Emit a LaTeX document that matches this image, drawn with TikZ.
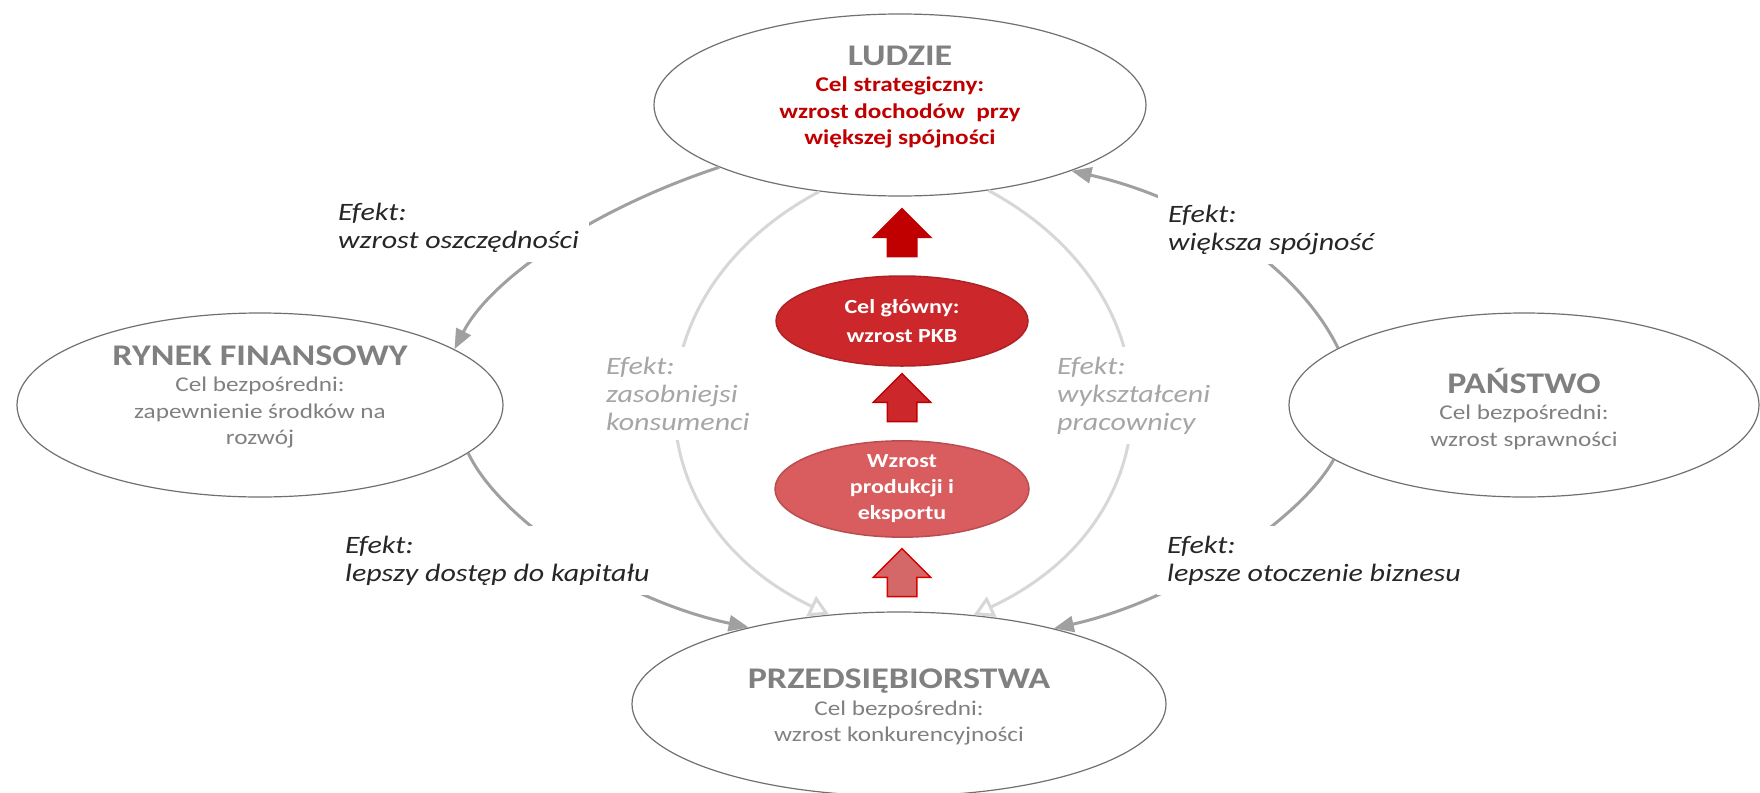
\documentclass[tikz,border=0pt]{standalone}
\usepackage{fontspec}
\setmainfont{Carlito}[FakeStretch=1.2]
\usepackage{tikz}
\usetikzlibrary{arrows.meta,shapes.geometric,shapes.arrows,positioning}
\definecolor{szary}{RGB}{128,128,128}
\definecolor{obrys}{RGB}{112,112,112}
\definecolor{luk}{RGB}{160,160,160}
\definecolor{lukjasny}{RGB}{215,215,215}
\definecolor{czerwony}{RGB}{192,0,0}
\definecolor{celfill}{RGB}{204,40,44}
\definecolor{wzrostfill}{RGB}{217,92,95}
\definecolor{strzalka}{RGB}{212,104,104}
\definecolor{efekt}{RGB}{38,38,38}
\definecolor{efektjasny}{RGB}{166,166,166}
\def\Tytul#1{{\color{szary}\fontsize{30}{26.5}\selectfont\bfseries #1}}

\begin{document}
\begin{tikzpicture}[x=1pt,y=-1pt,% one unit = one pixel of the original, y downwards
		every node/.style={
			align=center		% so that "\\" breaks lines
		},
		sektor/.style={ellipse,draw=obrys,line width=1.2pt,inner sep=0pt},
		opis/.style={text=szary,font=\fontsize{21}{26.5}\selectfont},
		srodek/.style={ellipse,line width=1.5pt,inner sep=0pt,text=white},
		efektbox/.style={anchor=north west,align=left,fill=white,inner sep=10pt,
			text=efekt,font=\itshape\fontsize{25}{28}\selectfont},
		wklad/.style={line width=3pt,draw=luk,-{Triangle[length=20pt,width=16pt]}},
		wewn/.style={line width=3pt,draw=lukjasny,-{Triangle[length=20pt,width=22pt,fill=white]}},
		strz/.style={single arrow,shape border rotate=90,minimum height=48pt,
			minimum width=56pt,single arrow head extend=14pt,inner xsep=14pt,inner ysep=0pt,
			line width=1.5pt}
	]
	\useasboundingbox (0,0) rectangle (1760,792);
	% the four sectors
	\node[sektor,minimum width=492pt,minimum height=182pt](Ludzie) at (900,105){};
	\node[sektor,minimum width=486pt,minimum height=184pt](Rynek) at (260,405){};
	\node[sektor,minimum width=470pt,minimum height=184pt](Panstwo) at (1524,405){};
	\node[sektor,minimum width=534pt,minimum height=184pt](Firmy) at (899,704){};
	\node[opis,text=czerwony,font=\bfseries\fontsize{21}{26.5}\selectfont](LudzieT) at (900,97)
		{\Tytul{LUDZIE}\\Cel strategiczny:\\wzrost dochodów~ przy\\większej spójności};
	\node[opis](RynekT) at (260,397){\Tytul{RYNEK FINANSOWY}\\Cel bezpośredni:\\zapewnienie środków na\\rozwój};
	\node[opis](PanstwoT) at (1524,409){\Tytul{PAŃSTWO}\\Cel bezpośredni:\\wzrost sprawności};
	\node[opis](FirmyT) at (899,707){\Tytul{PRZEDSIĘBIORSTWA}\\Cel bezpośredni:\\wzrost konkurencyjności};
	% effects between the sectors
	\draw[wklad] (Ludzie.199) .. controls (590,210) and (490,280) .. (Rynek.16);
	\draw[wklad] (Panstwo.163) .. controls (1300,270) and (1200,200) .. (Ludzie.-21);
	\draw[wklad] (Rynek.-13) .. controls (500,520) and (620,600) .. (Firmy.153);
	\draw[wklad] (Panstwo.196) .. controls (1300,520) and (1180,600) .. (Firmy.26);
	\draw[wewn] (Ludzie.227) .. controls (625,295) and (630,520) .. (Firmy.128);
	\draw[wewn] (Ludzie.-44) .. controls (1182,295) and (1177,520) .. (Firmy.50);
	\node[efektbox](E1) at (328,192.5){Efekt:\\wzrost oszczędności};
	\node[efektbox](E2) at (1158,194.5){Efekt:\\większa spójność};
	\node[efektbox](E3) at (335,525.5){Efekt:\\lepszy dostęp do kapitału};
	\node[efektbox](E4) at (1157,525.5){Efekt:\\lepsze otoczenie biznesu};
	\node[efektbox,text=efektjasny](E5) at (596,346.5){Efekt:\\zasobniejsi\\konsumenci};
	\node[efektbox,text=efektjasny](E6) at (1047,346.5){Efekt:\\wykształceni\\pracownicy};
	% the centre column
	\node[srodek,fill=celfill,draw=celfill!85!black,minimum width=252pt,minimum height=90pt,
		font=\bfseries\fontsize{20}{29}\selectfont](Cel) at (902,321){Cel główny:\\wzrost PKB};
	\node[srodek,fill=wzrostfill,draw=wzrostfill!85!black,minimum width=254pt,minimum height=86pt,
		font=\bfseries\fontsize{20}{26}\selectfont](Prod) at (902,489){Wzrost\\produkcji i\\eksportu};
	\node[strz,fill=czerwony,draw=czerwony](A1) at (902,240){};
	\node[strz,fill=celfill,draw=czerwony](A2) at (902,405){};
	\node[strz,fill=strzalka,draw=red!85!black](A3) at (902,580){};
\end{tikzpicture}
\end{document}
